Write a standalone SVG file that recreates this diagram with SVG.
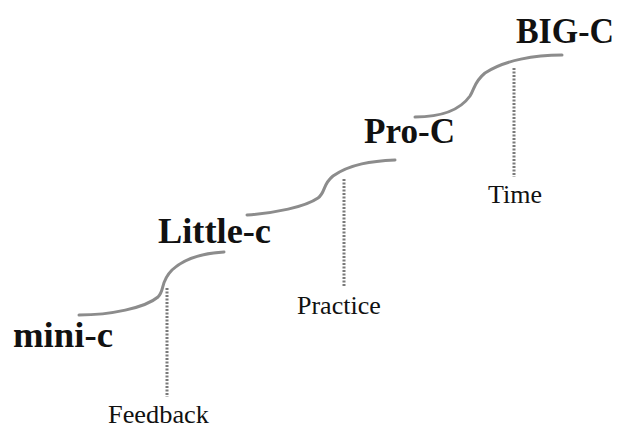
<svg xmlns="http://www.w3.org/2000/svg" width="620" height="428" viewBox="0 0 620 428">
  <style>
    .stage { font-family: "Liberation Serif", "Times New Roman", serif; font-weight: bold; font-size: 36px; fill: #111; }
    .factor { font-family: "Liberation Serif", "Times New Roman", serif; font-size: 26px; fill: #111; }
    .step { fill: none; stroke: #8c8c8c; stroke-width: 3; stroke-linecap: round; }
    .guide { fill: none; stroke: #7a7a7a; stroke-width: 3; stroke-dasharray: 2 1.5; }
  </style>
  <rect width="620" height="428" fill="#ffffff"/>
  <g id="connectors">
    <path class="step" d="M79,315 C110,315 145,308 158,297 C165,290 160,282 172,270 C185,258 205,253 224,252"/>
    <path class="step" d="M247,215 C275,213 305,207 318,198 C326,192 322,185 333,176 C350,164 372,161 395,160"/>
    <path class="step" d="M415,117 C440,117 460,110 470,96 C475,88 474,82 485,73 C505,60 535,55 562,55"/>
    <line class="guide" x1="167" y1="288" x2="167" y2="397"/>
    <line class="guide" x1="344" y1="179" x2="344" y2="287"/>
    <line class="guide" x1="514" y1="68" x2="514" y2="177"/>
  </g>
  <g id="mini-c"><text class="stage" x="13" y="347" textLength="100" lengthAdjust="spacingAndGlyphs">mini-c</text></g>
  <g id="little-c"><text class="stage" x="158" y="243" textLength="113" lengthAdjust="spacingAndGlyphs">Little-c</text></g>
  <g id="pro-c"><text class="stage" x="364" y="143" textLength="91" lengthAdjust="spacingAndGlyphs">Pro-C</text></g>
  <g id="big-c"><text class="stage" x="516" y="43" textLength="98" lengthAdjust="spacingAndGlyphs">BIG-C</text></g>
  <g id="feedback"><text class="factor" x="108" y="423" textLength="101" lengthAdjust="spacingAndGlyphs">Feedback</text></g>
  <g id="practice"><text class="factor" x="297" y="314">Practice</text></g>
  <g id="time"><text class="factor" x="488" y="203">Time</text></g>
</svg>
